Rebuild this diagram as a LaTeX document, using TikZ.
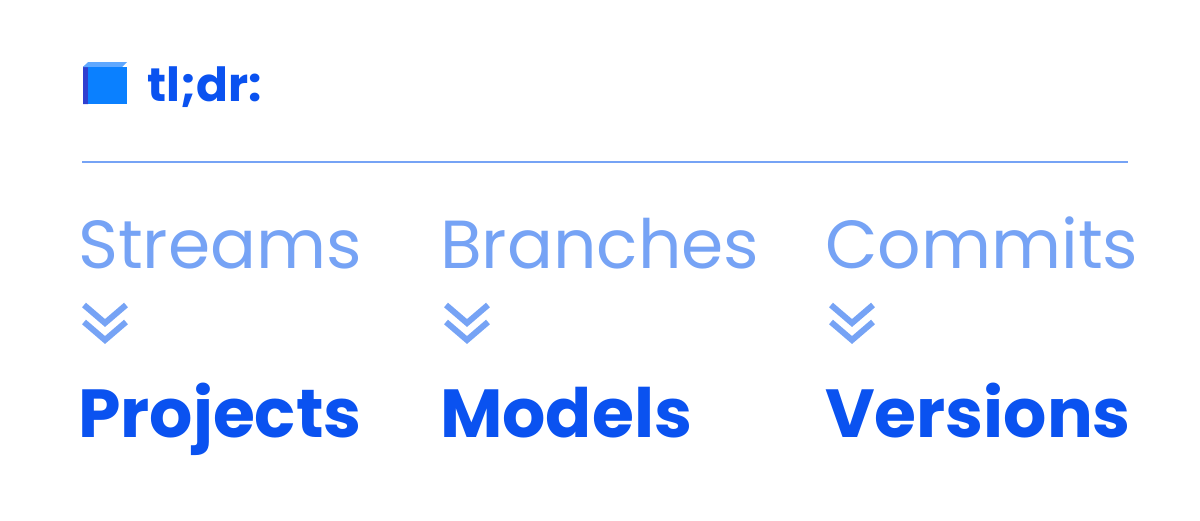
\documentclass[tikz,border=0pt]{standalone}
\usepackage{fontspec}
\setmainfont{Poppins}
\definecolor{lite}{HTML}{76A3F5}
\definecolor{deep}{HTML}{0A52F0}
\definecolor{cubetop}{HTML}{5FA8FF}
\definecolor{cubeside}{HTML}{2F3FD0}
\definecolor{cubefront}{HTML}{0A80FF}
\begin{document}
\begin{tikzpicture}[x=1pt,y=-1pt,
  top/.style={anchor=base west,inner sep=0,text=lite,font=\fontsize{68}{70}\selectfont},
  bot/.style={anchor=base west,inner sep=0,text=deep,font=\fontsize{68}{70}\selectfont\bfseries},
  chev/.style={draw=lite,line width=6pt,line cap=butt}]
\useasboundingbox (0,0) rectangle (1200,520);
% cube
\fill[cubeside] (83,67) -- (88,63) -- (88,104) -- (83,104) -- cycle;
\fill[cubetop] (83,67) -- (88,62) -- (127,62) -- (122,67) -- cycle;
\fill[cubefront] (88,67) rectangle (127,104);
\node[anchor=base west,inner sep=0,text=deep,font=\fontsize{47}{47}\selectfont\bfseries] (tldr) at (147,101) {tl;dr:};
\draw[lite,line width=2pt] (82,162) coordinate (l1) -- (1128,162) coordinate (l2);
\foreach \n/\t/\b/\x in {s/Streams/Projects/78,b/Branches/Models/440,c/Commits/Versions/825}{
  \node[top] (\n t) at (\x,268) {\t};
  \node[bot] (\n b) at (\x,437) {\b};
  \draw[chev] (\x+6,305) -- (\x+27,323) -- (\x+48,305);
  \draw[chev] (\x+6,322) -- (\x+27,340) -- (\x+48,322);
}
\end{tikzpicture}
\end{document}
